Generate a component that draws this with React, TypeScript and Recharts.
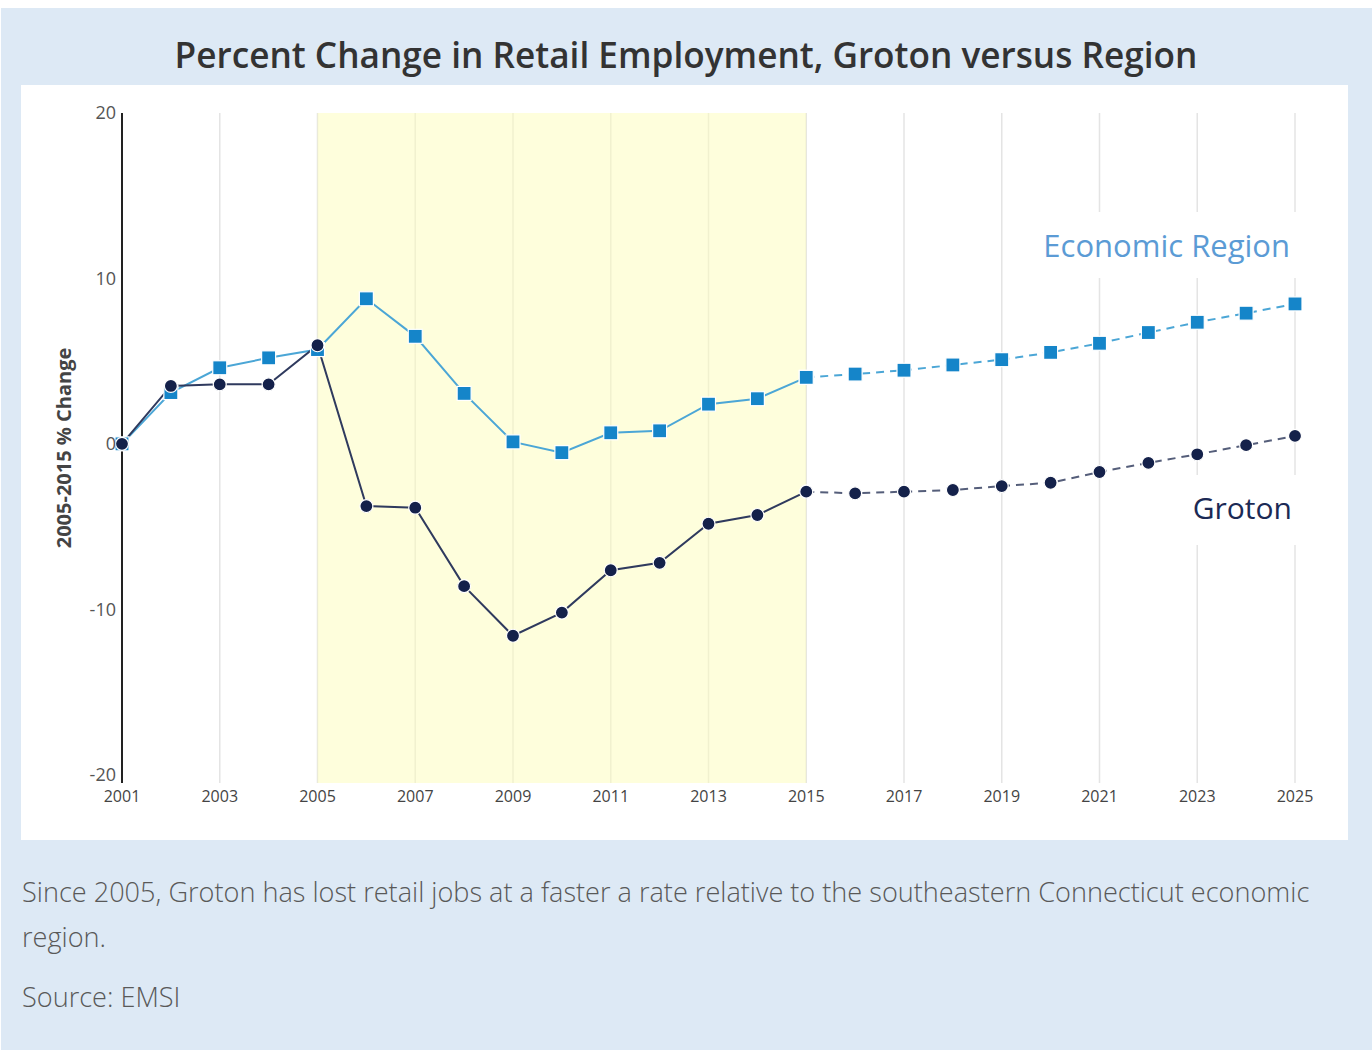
import React from 'react';
import { LineChart, Line, XAxis, YAxis, CartesianGrid, ReferenceArea, Label } from 'recharts';

const years = [2001, 2002, 2003, 2004, 2005, 2006, 2007, 2008, 2009, 2010, 2011, 2012, 2013, 2014, 2015, 2016, 2017, 2018, 2019, 2020, 2021, 2022, 2023, 2024, 2025];
const regionValues = [0, 3.1, 4.6, 5.2, 5.7, 8.77, 6.5, 3.05, 0.12, -0.53, 0.67, 0.79, 2.4, 2.73, 4.02, 4.22, 4.45, 4.77, 5.09, 5.53, 6.08, 6.73, 7.35, 7.9, 8.46];
const grotonValues = [0, 3.5, 3.6, 3.6, 5.96, -3.76, -3.86, -8.6, -11.6, -10.2, -7.64, -7.19, -4.83, -4.3, -2.89, -2.99, -2.89, -2.79, -2.55, -2.35, -1.7, -1.15, -0.63, -0.08, 0.48];
const lastActualYear = 2015;
const xTicks = [2001, 2003, 2005, 2007, 2009, 2011, 2013, 2015, 2017, 2019, 2021, 2023, 2025];
const yTicks = [-20, -10, 0, 10, 20];
const bandStart = 2005;
const bandEnd = 2015;

const data = years.map((year, i) => ({
  year,
  regionActual: year <= lastActualYear ? regionValues[i] : null,
  regionProj: year >= lastActualYear ? regionValues[i] : null,
  grotonActual: year <= lastActualYear ? grotonValues[i] : null,
  grotonProj: year >= lastActualYear ? grotonValues[i] : null,
}));

const FONT = '"Open Sans", "Noto Sans", sans-serif';

const SquareDot = (props: any) => {
  const { cx, cy, value, index } = props;
  if (cx == null || cy == null || value == null) return <g key={`sq-${index}`} />;
  return <rect key={`sq-${index}`} x={cx - 7} y={cy - 7} width={14} height={14} fill="#1585c9" stroke="#ffffff" strokeWidth={1.2} />;
};

const CircleDot = (props: any) => {
  const { cx, cy, value, index } = props;
  if (cx == null || cy == null || value == null) return <g key={`ci-${index}`} />;
  return <circle key={`ci-${index}`} cx={cx} cy={cy} r={6.5} fill="#14214a" stroke="#ffffff" strokeWidth={1.2} />;
};

const YAxisTitle = (props: any) => {
  const vb = props.viewBox || {};
  const x = (vb.x || 0) + 21;
  const y = (vb.y || 0) + (vb.height || 0) / 2;
  return (
    <text x={x} y={y} transform={`rotate(-90, ${x}, ${y})`} textAnchor="middle" dominantBaseline="central"
      fill="#444" fontSize={20} fontWeight={700} fontFamily={FONT}>
      2005-2015 % Change
    </text>
  );
};

export default function App() {
  return (
    <div style={{ position: 'relative', width: 1372, height: 1050, background: '#ffffff', overflow: 'hidden', fontFamily: FONT }}>
      <style>{`body{margin:0;}`}</style>
      <div style={{ position: 'absolute', left: 1, top: 8, width: 1371, height: 1042, background: '#dde9f5' }} />
      <div style={{ position: 'absolute', left: 0, top: 37, width: 1372, textAlign: 'center', fontSize: 35.2, lineHeight: '35px', fontWeight: 600, color: '#333333', whiteSpace: 'nowrap' }}>
        Percent Change in Retail Employment, Groton versus Region
      </div>
      <div style={{ position: 'absolute', left: 21, top: 85, width: 1327, height: 755, background: '#ffffff' }}>
        <LineChart width={1327} height={755} data={data} margin={{ top: 28, right: 53, bottom: 27, left: 21 }}>
          <ReferenceArea x1={bandStart} x2={bandEnd} fill="#fdfdb9" fillOpacity={0.5} stroke="none" isFront={false} />
          <CartesianGrid horizontal={false} vertical stroke="#e4e4e4" strokeWidth={1.5} />
          <XAxis type="number" dataKey="year" domain={[2001, 2025]} ticks={xTicks} axisLine={false} tickLine={false}
            height={30} tick={{ fill: '#444', fontSize: 16, fontFamily: FONT }} interval={0} />
          <YAxis type="number" domain={[-20.5, 20]} ticks={yTicks} width={80} axisLine={{ stroke: '#222', strokeWidth: 2 }}
            tickLine={false} tickMargin={0} tick={{ fill: '#555', fontSize: 18, fontFamily: FONT }} allowDataOverflow>
            <Label content={<YAxisTitle />} />
          </YAxis>
          <Line type="linear" dataKey="regionActual" stroke="#4ba6d6" strokeWidth={2} dot={SquareDot} activeDot={false} isAnimationActive={false} />
          <Line type="linear" dataKey="regionProj" stroke="#4ba6d6" strokeWidth={2} strokeDasharray="8 6" dot={SquareDot} activeDot={false} isAnimationActive={false} />
          <Line type="linear" dataKey="grotonActual" stroke="#2f3a5e" strokeWidth={2} dot={CircleDot} activeDot={false} isAnimationActive={false} />
          <Line type="linear" dataKey="grotonProj" stroke="#555e7a" strokeWidth={2} strokeDasharray="8 6" dot={CircleDot} activeDot={false} isAnimationActive={false} />
        </LineChart>
      </div>
      <div style={{ position: 'absolute', left: 1035, top: 212, width: 265, height: 66, background: '#ffffff' }} />
      <div style={{ position: 'absolute', right: 82, top: 230, fontSize: 31, lineHeight: '30px', color: '#5b9bd5', whiteSpace: 'nowrap' }}>
        Economic Region
      </div>
      <div style={{ position: 'absolute', left: 1183, top: 475, width: 117, height: 70, background: '#ffffff' }} />
      <div style={{ position: 'absolute', right: 80, top: 493, fontSize: 30, lineHeight: '30px', color: '#1b2a55', whiteSpace: 'nowrap' }}>
        Groton
      </div>
      <div style={{ position: 'absolute', left: 22, top: 869, fontSize: 27.1, lineHeight: '45px', fontWeight: 300, color: '#595959', whiteSpace: 'nowrap' }}>
        Since 2005, Groton has lost retail jobs at a faster a rate relative to the southeastern Connecticut economic<br />region.
      </div>
      <div style={{ position: 'absolute', left: 22, top: 974, fontSize: 27.1, lineHeight: '45px', fontWeight: 300, color: '#595959', whiteSpace: 'nowrap' }}>
        Source: EMSI
      </div>
    </div>
  );
}
